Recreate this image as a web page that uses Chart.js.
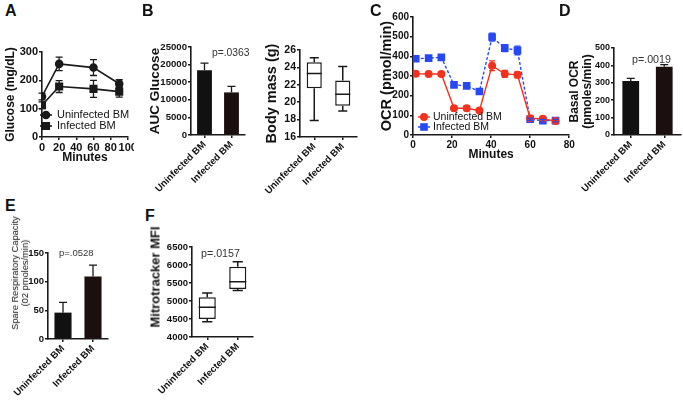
<!DOCTYPE html>
<html>
<head>
<meta charset="utf-8">
<script src="https://cdn.jsdelivr.net/npm/chart.js@4.4.0/dist/chart.umd.min.js"></script>
<style>
body { margin:0; background:#fff; width:683px; height:404px; position:relative; overflow:hidden; font-family:"Liberation Sans", Arial, sans-serif; }
canvas { position:absolute; }
.letter { position:absolute; font:bold 16px "Liberation Sans", Arial, sans-serif; line-height:1; color:#111; }
.pval { position:absolute; line-height:1; color:#333; white-space:nowrap; }
.ytitle { position:absolute; transform:translate(-50%,-50%) rotate(-90deg); white-space:nowrap; text-align:center; color:#111; }
</style>
</head>
<body>
<canvas id="cA" width="134" height="125" style="left:0;top:40px"></canvas>
<canvas id="cAuc" width="103" height="172" style="left:145px;top:30px"></canvas>
<canvas id="cMass" width="115" height="172" style="left:245px;top:30px"></canvas>
<canvas id="cC" width="205" height="160" style="left:370px;top:5px"></canvas>
<canvas id="cD" width="118" height="172" style="left:565px;top:30px"></canvas>
<canvas id="cE" width="112" height="179" style="left:0;top:225px"></canvas>
<canvas id="cF" width="112" height="179" style="left:145px;top:225px"></canvas>

<div class="letter" style="left:5px;top:3px">A</div>
<div class="letter" style="left:142px;top:3px">B</div>
<div class="letter" style="left:370px;top:3px">C</div>
<div class="letter" style="left:559px;top:3px">D</div>
<div class="letter" style="left:5px;top:198px">E</div>
<div class="letter" style="left:145px;top:208px">F</div>

<div class="pval" style="left:212px;top:48px;font-size:10.3px">p=.0363</div>
<div class="pval" style="left:632px;top:54px;font-size:10.7px">p=.0019</div>
<div class="pval" style="left:59px;top:248px;font-size:9.5px">p=.0528</div>
<div class="pval" style="left:201px;top:248px;font-size:10.7px">p=.0157</div>

<div class="ytitle" style="left:20px;top:273px;font-size:9.3px;line-height:10px">Spare Respiratory Capacity<br>(02 pmoles/min)</div>
<div class="ytitle" style="left:155px;top:277px;font-size:13px;font-weight:bold">Mitrotracker MFI</div>

<script>
const GROUPS = ["Uninfected BM", "Infected BM"];

// A: glucose tolerance (mg/dL)
const gttMinutes = [0, 20, 60, 90];
const gttUninf = [143, 258, 245, 188];
const gttUninfErr = [12, 24, 28, 14];
const gttInf = [112, 178, 170, 160];
const gttInfErr = [12, 21, 30, 19];

// B: AUC glucose and body mass
const aucGlucose = [18400, 12100];
const aucErr = [2000, 1700];
const massMin = [17.9, 19.0];
const massQ1 = [21.6, 19.6];
const massMed = [23.3, 20.9];
const massQ3 = [24.6, 22.5];
const massMax = [25.1, 24.1];

// C: OCR trace (pmol/min)
const ocrMinutes = [1.4, 8, 14.5, 21, 27.5, 34, 40.5, 47, 53.5, 60, 66.5, 73];
const ocrUninf = [311, 310, 310, 136, 136, 124, 352, 311, 306, 85, 82, 71];
const ocrUninfErr = [10, 10, 10, 12, 12, 6, 25, 18, 15, 6, 6, 5];
const ocrInf = [388, 391, 395, 255, 250, 221, 498, 442, 430, 80, 73, 73];
const ocrInfErr = [6, 6, 6, 6, 6, 6, 20, 18, 22, 6, 6, 6];

// D: basal OCR
const basalOcr = [311, 392];
const basalErr = [14, 12];

// E: spare respiratory capacity
const spareCap = [46, 109];
const spareErr = [18, 20];

// F: mitotracker MFI
const mitoMin = [4425, 5290];
const mitoQ1 = [4500, 5333];
const mitoMed = [4825, 5536];
const mitoQ3 = [5103, 5953];
const mitoMax = [5222, 6092];

const FONT = '"Liberation Sans", Arial, sans-serif';
const INK = '#1a1a1a';
const RED = '#f2321e';
const BLUE = '#2748f2';
Chart.defaults.font.family = FONT;
Chart.defaults.color = '#111';

// error bars drawn with the chart's own y scale
const errorBars = {
    id: 'errorBars',
    afterDatasetsDraw(chart) {
        const ctx = chart.ctx;
        chart.data.datasets.forEach((ds, i) => {
            if (!ds.errors) return;
            const meta = chart.getDatasetMeta(i);
            const yScale = chart.scales[meta.yAxisID];
            ctx.save();
            ctx.strokeStyle = ds.errorColor || INK;
            ctx.lineWidth = 1.3;
            meta.data.forEach((el, j) => {
                const d = ds.data[j];
                const v = typeof d === 'object' ? d.y : d;
                const hi = yScale.getPixelForValue(v + ds.errors[j]);
                const lo = ds.errorUp ? el.y : yScale.getPixelForValue(v - ds.errors[j]);
                const c = ds.capHalf || 3;
                ctx.beginPath();
                ctx.moveTo(el.x, lo);
                ctx.lineTo(el.x, hi);
                ctx.moveTo(el.x - c, hi);
                ctx.lineTo(el.x + c, hi);
                if (!ds.errorUp) {
                    ctx.moveTo(el.x - c, lo);
                    ctx.lineTo(el.x + c, lo);
                }
                ctx.stroke();
            });
            ctx.restore();
        });
    }
};

// whiskers and median for the floating-bar boxes
const boxWhiskers = {
    id: 'boxWhiskers',
    afterDatasetsDraw(chart) {
        const ctx = chart.ctx;
        chart.data.datasets.forEach((ds, i) => {
            if (!ds.whiskers) return;
            const meta = chart.getDatasetMeta(i);
            const y = chart.scales[meta.yAxisID];
            const w = ds.whiskers;
            ctx.save();
            ctx.strokeStyle = INK;
            ctx.lineWidth = 1.5;
            meta.data.forEach((el, j) => {
                const half = el.width / 2;
                const cap = half * 0.6;
                const pMin = y.getPixelForValue(w.min[j]);
                const pMax = y.getPixelForValue(w.max[j]);
                const pQ1 = y.getPixelForValue(ds.data[j][0]);
                const pQ3 = y.getPixelForValue(ds.data[j][1]);
                const pMed = y.getPixelForValue(w.med[j]);
                ctx.beginPath();
                ctx.moveTo(el.x, pQ1); ctx.lineTo(el.x, pMin);
                ctx.moveTo(el.x - cap, pMin); ctx.lineTo(el.x + cap, pMin);
                ctx.moveTo(el.x, pQ3); ctx.lineTo(el.x, pMax);
                ctx.moveTo(el.x - cap, pMax); ctx.lineTo(el.x + cap, pMax);
                ctx.moveTo(el.x - half, pMed); ctx.lineTo(el.x + half, pMed);
                ctx.stroke();
            });
            ctx.restore();
        });
    }
};

// legend drawn inside the plot area, GraphPad style
const innerLegend = {
    id: 'innerLegend',
    afterDraw(chart, args, opts) {
        if (!opts.rows) return;
        const ctx = chart.ctx;
        const area = chart.chartArea;
        chart.data.datasets.forEach((ds, i) => {
            const y = area.bottom - opts.rows[i];
            const x = area.left + opts.dx;
            ctx.save();
            ctx.strokeStyle = ds.borderColor;
            ctx.fillStyle = ds.pointBackgroundColor || ds.borderColor;
            ctx.lineWidth = ds.borderWidth;
            ctx.setLineDash(ds.borderDash || []);
            ctx.beginPath();
            ctx.moveTo(x - opts.half, y);
            ctx.lineTo(x + opts.half, y);
            ctx.stroke();
            ctx.setLineDash([]);
            Chart.helpers.drawPoint(ctx, {pointStyle: ds.pointStyle, radius: ds.pointRadius, rotation: 0, borderWidth: 1}, x, y);
            ctx.fillStyle = '#111';
            ctx.font = opts.font;
            ctx.textBaseline = 'middle';
            ctx.fillText(ds.label, x + opts.textDx, y);
            ctx.restore();
        });
    }
};

function fitY(w) {
    return function(scale) { scale.width = w; scale.paddingTop = 0; scale.paddingBottom = 0; };
}
function fitX(h) {
    return function(scale) { scale.height = h; scale.paddingLeft = 0; scale.paddingRight = 0; };
}
function marks() {
    return { drawOnChartArea: false, drawTicks: true, tickLength: 3, color: INK, lineWidth: 1.5, offset: false };
}
function border() {
    return { color: INK, width: 1.6 };
}
function yAxis(o) {
    return {
        min: o.min, max: o.max,
        ticks: { stepSize: o.step, font: { size: o.size, weight: 'bold' }, padding: 1, callback: v => String(v) },
        grid: marks(), border: border(),
        title: o.title ? { display: true, text: o.title, font: { size: o.titleSize, weight: 'bold', lineHeight: o.lh || 1.2 }, padding: { top: o.titlePad, bottom: 0 } } : { display: false },
        afterFit: fitY(o.w)
    };
}
function groupAxis(h) {
    return {
        type: 'category',
        ticks: { minRotation: 45, maxRotation: 45, autoSkip: false, font: { size: 9.6, weight: 'bold' }, padding: 1 },
        grid: marks(), border: border(),
        afterFit: fitX(h)
    };
}
function frame(top, right) {
    return {
        responsive: false,
        animation: false,
        layout: { padding: { top: top, right: right, left: 0, bottom: 0 } },
        plugins: { legend: { display: false }, tooltip: { enabled: false } }
    };
}
function barSet(values, errors, frac) {
    return {
        data: values, errors: errors, errorUp: true, capHalf: 4,
        backgroundColor: ['#111', '#1c0f0f'], borderWidth: 0,
        barPercentage: frac, categoryPercentage: 1
    };
}
function boxSet(q1, q3, min, med, max, frac) {
    return {
        data: q1.map((q, i) => [q, q3[i]]),
        whiskers: { min: min, med: med, max: max },
        backgroundColor: '#fff', borderColor: INK, borderWidth: 1.5, borderSkipped: false,
        barPercentage: frac, categoryPercentage: 1
    };
}
function points(xs, ys) {
    return xs.map((x, i) => ({ x: x, y: ys[i] }));
}

// A
new Chart(document.getElementById('cA'), {
    type: 'line',
    data: { datasets: [
        { label: GROUPS[0], data: points(gttMinutes, gttUninf), errors: gttUninfErr, capHalf: 3.5,
          borderColor: INK, pointBackgroundColor: INK, borderWidth: 1.6, pointStyle: 'circle', pointRadius: 3.5 },
        { label: GROUPS[1], data: points(gttMinutes, gttInf), errors: gttInfErr, capHalf: 3.5,
          borderColor: INK, pointBackgroundColor: INK, borderWidth: 1.6, pointStyle: 'rect', pointRadius: 4.6 }
    ]},
    options: Object.assign(frame(12, 4), {
        scales: {
            x: { type: 'linear', min: 0, max: 100,
                 ticks: { stepSize: 20, autoSkip: false, maxRotation: 0, font: { size: 11, weight: 'bold' }, padding: 1 },
                 grid: marks(), border: border(),
                 title: { display: true, text: 'Minutes', font: { size: 12, weight: 'bold' }, padding: { top: 0, bottom: 0 } },
                 afterFit: fitX(28) },
            y: yAxis({ min: 0, max: 300, step: 100, size: 11, w: 42, title: 'Glucose (mg/dL)', titleSize: 12, titlePad: 3 })
        }
    }),
    plugins: [errorBars, innerLegend]
});
Chart.getChart('cA').options.plugins.innerLegend = { rows: [22, 11], dx: 4, half: 6, textDx: 11, font: '11px ' + FONT };
Chart.getChart('cA').update();

// B: AUC
new Chart(document.getElementById('cAuc'), {
    type: 'bar',
    data: { labels: GROUPS, datasets: [barSet(aucGlucose, aucErr, 0.55)] },
    options: Object.assign(frame(17, 3), {
        scales: {
            x: groupAxis(67),
            y: yAxis({ min: 0, max: 25000, step: 5000, size: 9.6, w: 46, title: 'AUC Glucose', titleSize: 13.5, titlePad: 2 })
        }
    }),
    plugins: [errorBars]
});

// B: body mass
new Chart(document.getElementById('cMass'), {
    type: 'bar',
    data: { labels: GROUPS, datasets: [boxSet(massQ1, massQ3, massMin, massMed, massMax, 0.53)] },
    options: Object.assign(frame(20, 3), {
        scales: {
            x: groupAxis(65),
            y: yAxis({ min: 16, max: 26, step: 2, size: 10.5, w: 55, title: 'Body mass (g)', titleSize: 14.5, titlePad: 18 })
        }
    }),
    plugins: [boxWhiskers]
});

// C
new Chart(document.getElementById('cC'), {
    type: 'line',
    data: { datasets: [
        { label: GROUPS[0], data: points(ocrMinutes, ocrUninf), errors: ocrUninfErr, errorColor: RED, capHalf: 3,
          borderColor: RED, pointBackgroundColor: RED, pointBorderColor: RED, borderWidth: 1.4, pointStyle: 'circle', pointRadius: 3.3 },
        { label: GROUPS[1], data: points(ocrMinutes, ocrInf), errors: ocrInfErr, errorColor: BLUE, capHalf: 3,
          borderColor: BLUE, pointBackgroundColor: BLUE, pointBorderColor: BLUE, borderWidth: 1.4, borderDash: [3, 2], pointStyle: 'rect', pointRadius: 4.4 }
    ]},
    options: Object.assign(frame(12, 4), {
        scales: {
            x: { type: 'linear', min: 0, max: 80,
                 ticks: { stepSize: 20, autoSkip: false, maxRotation: 0, font: { size: 10, weight: 'bold' }, padding: 1 },
                 grid: marks(), border: border(),
                 title: { display: true, text: 'Minutes', font: { size: 12, weight: 'bold' }, padding: { top: 0, bottom: 3 } },
                 afterFit: fitX(30) },
            y: yAxis({ min: 0, max: 600, step: 100, size: 10, w: 43, title: 'OCR (pmol/min)', titleSize: 14.5, titlePad: 8 })
        }
    }),
    plugins: [errorBars, innerLegend]
});
Chart.getChart('cC').options.plugins.innerLegend = { rows: [18, 8], dx: 11, half: 6, textDx: 9, font: '10.5px ' + FONT };
Chart.getChart('cC').update();

// D
new Chart(document.getElementById('cD'), {
    type: 'bar',
    data: { labels: GROUPS, datasets: [barSet(basalOcr, basalErr, 0.5)] },
    options: Object.assign(frame(18, 2), {
        scales: {
            x: groupAxis(67),
            y: yAxis({ min: 0, max: 500, step: 100, size: 9, w: 49, title: ['Basal OCR', '(pmoles/min)'], titleSize: 12, lh: 1.1, titlePad: 3 })
        }
    }),
    plugins: [errorBars]
});

// E
new Chart(document.getElementById('cE'), {
    type: 'bar',
    data: { labels: GROUPS, datasets: [barSet(spareCap, spareErr, 0.57)] },
    options: Object.assign(frame(28, 4), {
        scales: {
            x: groupAxis(65),
            y: yAxis({ min: 0, max: 150, step: 50, size: 9.5, w: 48 })
        }
    }),
    plugins: [errorBars]
});

// F
new Chart(document.getElementById('cF'), {
    type: 'bar',
    data: { labels: GROUPS, datasets: [boxSet(mitoQ1, mitoQ3, mitoMin, mitoMed, mitoMax, 0.56)] },
    options: Object.assign(frame(22, 4), {
        scales: {
            x: groupAxis(67),
            y: yAxis({ min: 4000, max: 6500, step: 500, size: 9.5, w: 47 })
        }
    }),
    plugins: [boxWhiskers]
});
</script>
</body>
</html>
